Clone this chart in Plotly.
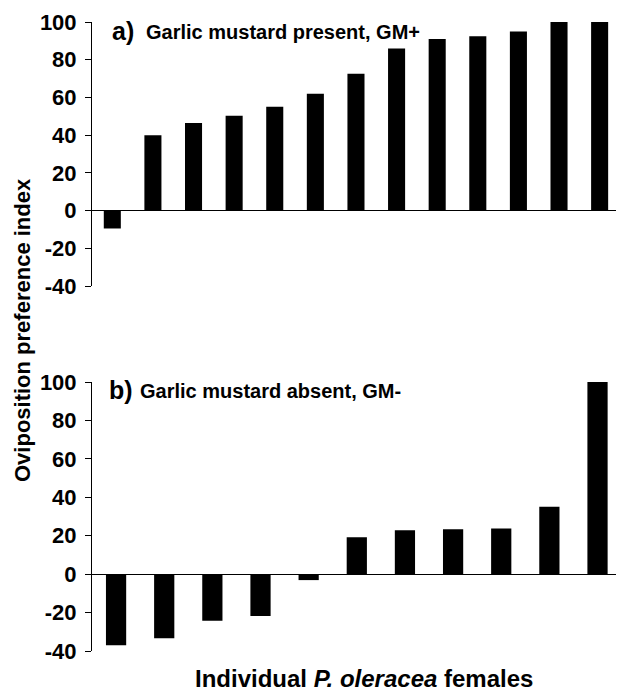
import plotly.graph_objects as go

# Panel a) Garlic mustard present, GM+
gm_plus_females = list(range(1, 14))
gm_plus_values = [-9.5, 40, 46.5, 50.3, 55, 62, 72.5, 86, 91, 92.5, 95, 100, 100]

# Panel b) Garlic mustard absent, GM-
gm_minus_females = list(range(1, 12))
gm_minus_values = [-37, -33.3, -24.3, -21.8, -3.1, 19.2, 22.8, 23.3, 23.8, 35.1, 100]

y_ticks = [-40, -20, 0, 20, 40, 60, 80, 100]
y_tick_labels = ["-40", "-20", "0", "20", "40", "60", "80", "100"]

# page body has an 8px margin; figure fills the rest of the window
OFF = 8
W, H = 624 - OFF, 691 - OFF
FONT = "Liberation Sans, Arial, sans-serif"

def px_x(p):
    return (p - OFF) / W

def px_y(p):
    return 1 - (p - OFF) / H

fig = go.Figure()
fig.add_trace(go.Bar(x=gm_plus_females, y=gm_plus_values, width=0.42,
                     marker=dict(color="black", line=dict(width=0)),
                     xaxis="x", yaxis="y", showlegend=False))
fig.add_trace(go.Bar(x=gm_minus_females, y=gm_minus_values, width=0.42,
                     marker=dict(color="black", line=dict(width=0)),
                     xaxis="x2", yaxis="y2", showlegend=False))

yax = dict(range=[-40, 100], tickvals=y_ticks, ticktext=y_tick_labels,
           ticks="outside", ticklen=6,
           tickwidth=1, tickcolor="black", showline=True, linecolor="black",
           linewidth=1, showgrid=False, zeroline=True, zerolinecolor="black",
           zerolinewidth=1, automargin=False,
           tickfont=dict(family=FONT, size=22, color="black", weight="bold"),
           ticklabelstandoff=4)
xax = dict(showline=False, showgrid=False, zeroline=False, automargin=False,
           showticklabels=False, ticks="")

fig.update_layout(
    template="none",
    width=W, height=H,
    margin=dict(l=0, r=0, t=0, b=0, pad=0),
    paper_bgcolor="white", plot_bgcolor="white",
    xaxis=dict(domain=[px_x(92), 1], range=[0.5, 13.6], anchor="y", **xax),
    yaxis=dict(domain=[px_y(286), px_y(22)], anchor="x", **yax),
    xaxis2=dict(domain=[px_x(92), 1], range=[0.5, 11.55], anchor="y2", **xax),
    yaxis2=dict(domain=[px_y(651), px_y(382)], anchor="x2", **yax),
    annotations=[
        dict(text="a)", x=px_x(110), y=px_y(31), xref="paper", yref="paper",
             xanchor="left", yanchor="middle", showarrow=False,
             font=dict(family=FONT, size=25, color="black", weight="bold")),
        dict(text="Garlic mustard present, GM+", x=px_x(144), y=px_y(32),
             xref="paper", yref="paper", xanchor="left", yanchor="middle",
             showarrow=False,
             font=dict(family=FONT, size=20, color="black", weight="bold")),
        dict(text="b)", x=px_x(107), y=px_y(390), xref="paper", yref="paper",
             xanchor="left", yanchor="middle", showarrow=False,
             font=dict(family=FONT, size=25, color="black", weight="bold")),
        dict(text="Garlic mustard absent, GM-", x=px_x(138), y=px_y(391),
             xref="paper", yref="paper", xanchor="left", yanchor="middle",
             showarrow=False,
             font=dict(family=FONT, size=20, color="black", weight="bold")),
        dict(text="Oviposition preference index", x=px_x(22), y=px_y(330),
             xref="paper", yref="paper", xanchor="center", yanchor="middle",
             textangle=-90, showarrow=False,
             font=dict(family=FONT, size=22, color="black", weight="bold")),
        dict(text="Individual <i>P. oleracea</i> females", x=px_x(364),
             y=px_y(678), xref="paper", yref="paper", xanchor="center",
             yanchor="middle", showarrow=False,
             font=dict(family=FONT, size=24, color="black", weight="bold")),
    ],
)

fig.write_html("out.html")
